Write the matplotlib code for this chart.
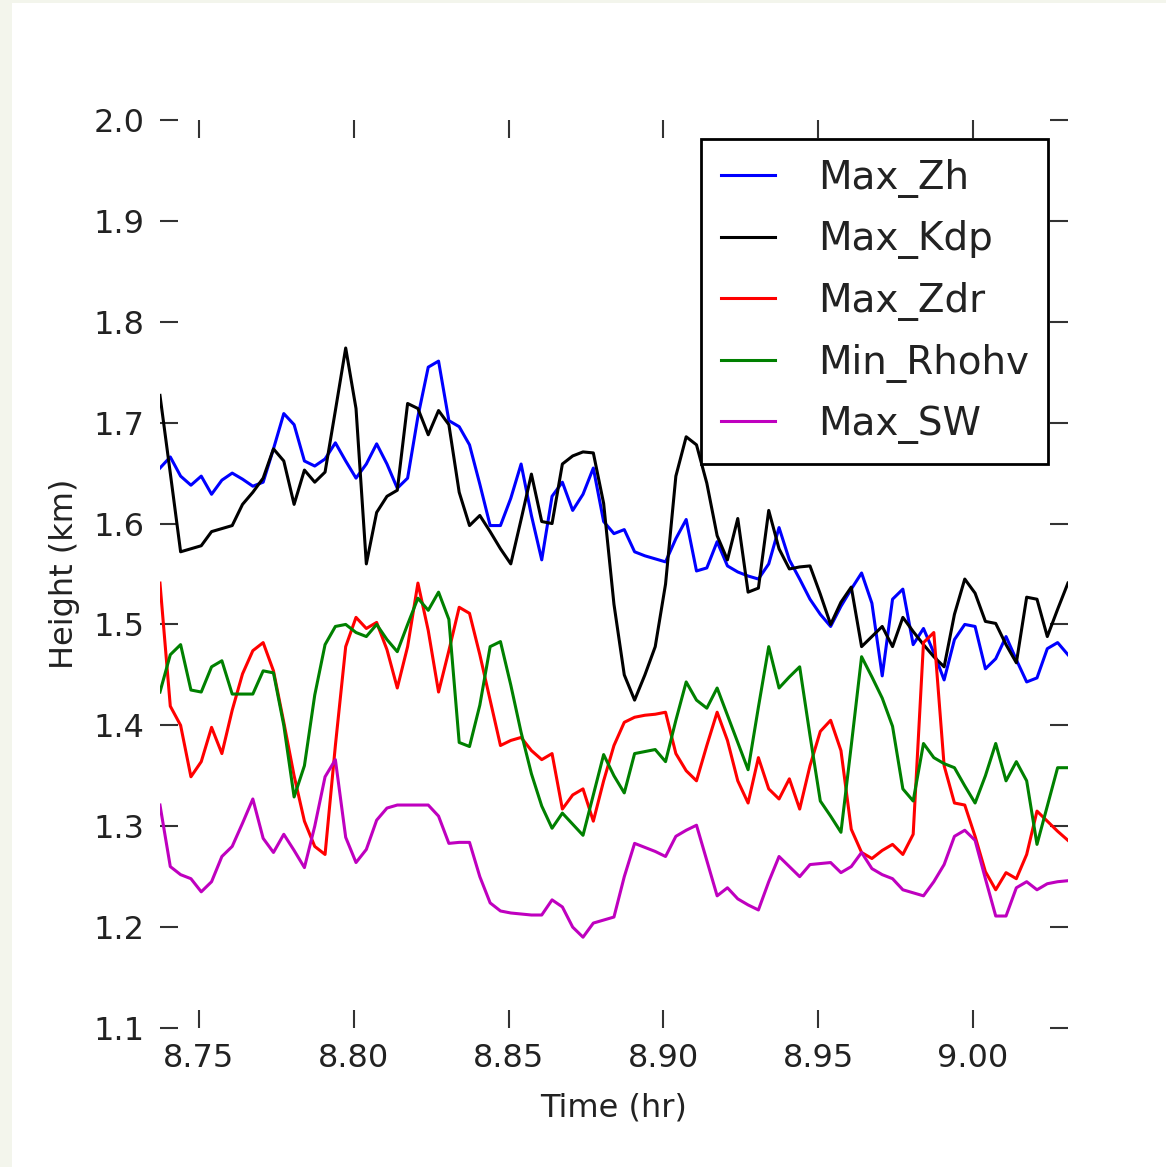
import numpy as np
import matplotlib
matplotlib.use('Agg')
import matplotlib.pyplot as plt
from matplotlib.patches import Rectangle

# scan times in hours, one volume roughly every 12 s
t_start = 8.7374
t_end = 9.0307
n_scans = 89
time_hr = np.linspace(t_start, t_end, n_scans)

# heights (km) where each radar variable peaks / bottoms out
max_zh = [1.655, 1.666, 1.647, 1.638, 1.647, 1.629, 1.643, 1.650, 1.644, 1.637,
          1.641, 1.674, 1.709, 1.698, 1.662, 1.657, 1.664, 1.680, 1.662, 1.645,
          1.659, 1.679, 1.659, 1.635, 1.645, 1.706, 1.755, 1.761, 1.702, 1.696,
          1.678, 1.639, 1.598, 1.598, 1.625, 1.659, 1.608, 1.564, 1.627, 1.641,
          1.613, 1.629, 1.655, 1.602, 1.590, 1.594, 1.572, 1.568, 1.565, 1.562,
          1.585, 1.604, 1.553, 1.556, 1.582, 1.558, 1.552, 1.548, 1.545, 1.560,
          1.596, 1.564, 1.545, 1.525, 1.510, 1.498, 1.518, 1.535, 1.551, 1.521,
          1.449, 1.525, 1.535, 1.480, 1.496, 1.472, 1.445, 1.485, 1.500, 1.498,
          1.456, 1.466, 1.488, 1.465, 1.443, 1.447, 1.476, 1.482, 1.470]

max_kdp = [1.727, 1.650, 1.572, 1.575, 1.578, 1.592, 1.595, 1.598, 1.619, 1.631,
           1.645, 1.674, 1.662, 1.619, 1.653, 1.641, 1.651, 1.712, 1.774, 1.714,
           1.560, 1.611, 1.627, 1.633, 1.719, 1.714, 1.688, 1.712, 1.698, 1.631,
           1.598, 1.608, 1.592, 1.575, 1.560, 1.604, 1.649, 1.602, 1.600, 1.659,
           1.667, 1.671, 1.670, 1.620, 1.520, 1.450, 1.425, 1.450, 1.478, 1.540,
           1.647, 1.686, 1.678, 1.640, 1.588, 1.564, 1.605, 1.532, 1.536, 1.613,
           1.575, 1.555, 1.557, 1.558, 1.530, 1.500, 1.522, 1.537, 1.478, 1.488,
           1.498, 1.478, 1.507, 1.493, 1.480, 1.468, 1.458, 1.510, 1.545, 1.531,
           1.503, 1.501, 1.480, 1.462, 1.527, 1.525, 1.488, 1.515, 1.541]

max_zdr = [1.541, 1.419, 1.400, 1.349, 1.364, 1.398, 1.372, 1.415, 1.451, 1.474,
           1.482, 1.454, 1.403, 1.350, 1.305, 1.280, 1.272, 1.380, 1.478, 1.507,
           1.496, 1.502, 1.475, 1.437, 1.478, 1.541, 1.494, 1.433, 1.474, 1.517,
           1.511, 1.470, 1.425, 1.380, 1.385, 1.388, 1.375, 1.366, 1.372, 1.317,
           1.331, 1.337, 1.305, 1.345, 1.380, 1.403, 1.408, 1.410, 1.411, 1.413,
           1.372, 1.355, 1.345, 1.380, 1.413, 1.385, 1.345, 1.323, 1.368, 1.337,
           1.327, 1.347, 1.317, 1.360, 1.394, 1.405, 1.375, 1.297, 1.274, 1.268,
           1.276, 1.282, 1.272, 1.292, 1.482, 1.492, 1.360, 1.323, 1.321, 1.290,
           1.255, 1.237, 1.254, 1.248, 1.272, 1.315, 1.305, 1.295, 1.286]

min_rhohv = [1.433, 1.470, 1.480, 1.435, 1.433, 1.458, 1.464, 1.431, 1.431, 1.431,
             1.454, 1.452, 1.400, 1.329, 1.360, 1.430, 1.480, 1.498, 1.500, 1.492,
             1.488, 1.500, 1.485, 1.473, 1.500, 1.526, 1.514, 1.532, 1.505, 1.383,
             1.379, 1.420, 1.478, 1.483, 1.440, 1.393, 1.352, 1.320, 1.298, 1.313,
             1.302, 1.291, 1.331, 1.371, 1.350, 1.333, 1.372, 1.374, 1.376, 1.364,
             1.405, 1.443, 1.425, 1.417, 1.437, 1.410, 1.383, 1.356, 1.418, 1.478,
             1.437, 1.448, 1.458, 1.390, 1.325, 1.310, 1.294, 1.380, 1.468, 1.448,
             1.427, 1.399, 1.337, 1.325, 1.382, 1.368, 1.362, 1.358, 1.340, 1.323,
             1.350, 1.382, 1.345, 1.364, 1.345, 1.282, 1.320, 1.358, 1.358]

max_sw = [1.321, 1.260, 1.252, 1.248, 1.235, 1.245, 1.270, 1.280, 1.303, 1.327,
          1.288, 1.274, 1.292, 1.276, 1.259, 1.300, 1.349, 1.366, 1.289, 1.264,
          1.277, 1.306, 1.318, 1.321, 1.321, 1.321, 1.321, 1.310, 1.283, 1.284,
          1.284, 1.250, 1.224, 1.216, 1.214, 1.213, 1.212, 1.212, 1.227, 1.220,
          1.200, 1.190, 1.204, 1.207, 1.210, 1.250, 1.283, 1.279, 1.275, 1.270,
          1.290, 1.296, 1.301, 1.266, 1.231, 1.239, 1.228, 1.222, 1.217, 1.245,
          1.270, 1.260, 1.250, 1.262, 1.263, 1.264, 1.254, 1.260, 1.274, 1.258,
          1.252, 1.248, 1.237, 1.234, 1.231, 1.245, 1.262, 1.290, 1.296, 1.286,
          1.248, 1.211, 1.211, 1.239, 1.245, 1.237, 1.243, 1.245, 1.246]

series = [(max_zh, 'b', 'Max_Zh'),
          (max_kdp, 'k', 'Max_Kdp'),
          (max_zdr, 'r', 'Max_Zdr'),
          (min_rhohv, 'g', 'Min_Rhohv'),
          (max_sw, 'm', 'Max_SW')]

x_ticks = [8.75, 8.80, 8.85, 8.90, 8.95, 9.00]
y_ticks = [1.1, 1.2, 1.3, 1.4, 1.5, 1.6, 1.7, 1.8, 1.9, 2.0]

fig = plt.figure(figsize=(11.66, 11.67), dpi=100)
fig.patch.set_facecolor('#f3f5ec')
# white page, leaving a thin tinted strip on the left and top
fig.patches.append(Rectangle((12 / 1166, 0), 1, 1 - 3 / 1167, transform=fig.transFigure,
                             facecolor='white', edgecolor='none', zorder=-5))

ax = fig.add_axes([0.1372, 0.1191, 0.7787, 0.7781])
ax.set_facecolor('white')

for values, color, name in series:
    ax.plot(time_hr, values, color=color, lw=2.2, label=name)

ax.set_xlim(t_start, t_end)
ax.set_ylim(1.1, 2.0)
ax.set_xticks(x_ticks)
ax.set_yticks(y_ticks)
ax.set_xticklabels(['%.2f' % v for v in x_ticks])
ax.set_yticklabels(['%.1f' % v for v in y_ticks])

for side in ax.spines.values():
    side.set_visible(False)

ax.tick_params(direction='in', length=13, width=1.5, color='#333333',
               top=True, right=True, labelsize=23, labelcolor='#222222', pad=11)

ax.set_xlabel('Time (hr)', fontsize=23, color='#222222')
ax.set_ylabel('Height (km)', fontsize=23, color='#222222')
ax.xaxis.set_label_coords(0.5, -0.071)
ax.yaxis.set_label_coords(-0.088, 0.5)

leg = ax.legend(loc='upper right', fontsize=28, fancybox=False, framealpha=1,
                edgecolor='black', handlelength=1.4, handletextpad=1.1,
                borderpad=0.5, labelspacing=0.58, borderaxespad=0.5)
leg.get_frame().set_linewidth(2.0)
for txt in leg.get_texts():
    txt.set_color('#222222')

fig.savefig('out.png', dpi=100, facecolor=fig.get_facecolor())
